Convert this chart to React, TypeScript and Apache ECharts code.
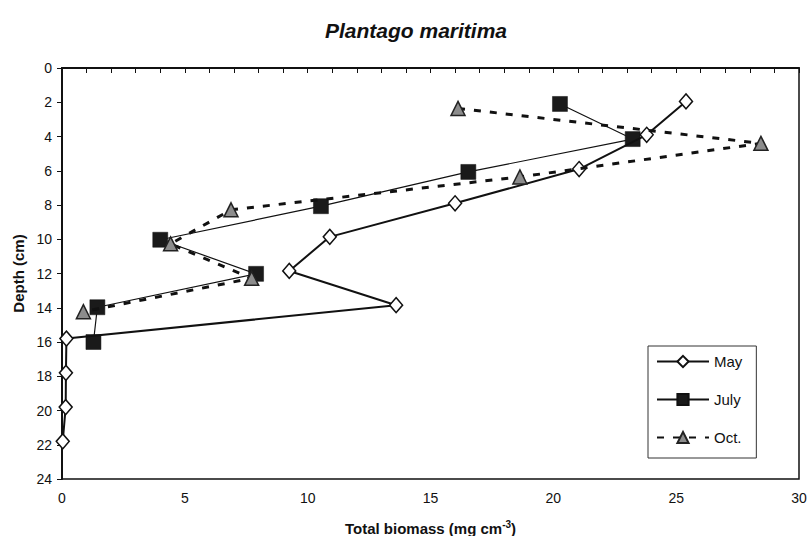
import React, { useEffect, useRef } from "react";
import * as echarts from "echarts";

const mayBiomass = [25.4, 23.8, 21.05, 16.0, 10.9, 9.25, 13.6, 0.18, 0.16, 0.15, 0.03];
const mayDepth = [1.95, 3.9, 5.9, 7.9, 9.86, 11.85, 13.85, 15.8, 17.8, 19.8, 21.8];
const julyBiomass = [20.27, 23.23, 16.54, 10.54, 4.0, 7.9, 1.44, 1.28];
const julyDepth = [2.1, 4.15, 6.07, 8.07, 10.03, 12.02, 13.97, 16.0];
const octBiomass = [16.12, 28.45, 18.64, 6.88, 4.42, 7.72, 0.87];
const octDepth = [2.36, 4.4, 6.36, 8.28, 10.27, 12.28, 14.23];
const seriesNames = ["May", "July", "Oct."];

const FONT = "'Liberation Sans', Arial, sans-serif";

function pairs(xs: number[], ys: number[]) {
  return xs.map((x, i) => [x, ys[i]]);
}

export default function App() {
  const ref = useRef<HTMLDivElement>(null);
  useEffect(() => {
    document.body.style.margin = "0";
    const chart = echarts.init(ref.current!, null, { renderer: "svg" });
    chart.setOption({
      animation: false,
      backgroundColor: "#fff",
      title: {
        text: "Plantago maritima",
        left: 320,
        top: 15,
        textStyle: {
          fontFamily: FONT,
          fontStyle: "italic",
          fontWeight: "bold",
          fontSize: 21,
          color: "#111",
        },
      },
      legend: {
        orient: "vertical",
        left: 648,
        top: 346,
        padding: [8, 14, 13, 8],
        itemWidth: 52,
        itemHeight: 14,
        itemGap: 23,
        borderColor: "#333",
        borderWidth: 1,
        backgroundColor: "#fff",
        textStyle: { fontFamily: FONT, fontSize: 15, color: "#111" },
        data: seriesNames,
      },
      grid: {
        left: 62,
        right: 8,
        top: 68,
        bottom: 57,
        show: true,
        outerBoundsMode: "none",
        containLabel: false,
        borderColor: "#111",
        borderWidth: 1.5,
      },
      xAxis: {
        type: "value",
        min: 0,
        max: 30,
        interval: 5,
        name: "Total biomass (mg cm{sup|-3})",
        nameLocation: "middle",
        nameGap: 40,
        nameTextStyle: {
          fontFamily: FONT,
          fontWeight: "bold",
          fontSize: 15,
          color: "#111",
          rich: {
            sup: {
              fontFamily: FONT,
              fontWeight: "bold",
              fontSize: 10,
              color: "#111",
              verticalAlign: "top",
              padding: [0, 0, 8, 0],
            },
          },
        },
        splitLine: { show: false },
        axisLine: { lineStyle: { color: "#111", width: 2 } },
        axisTick: { length: 5, lineStyle: { color: "#111" } },
        minorTick: { show: true, splitNumber: 5, length: 5, lineStyle: { color: "#111" } },
        axisLabel: { fontFamily: FONT, fontSize: 14, color: "#111", margin: 12 },
      },
      yAxis: {
        type: "value",
        inverse: true,
        min: 0,
        max: 24,
        interval: 2,
        name: "Depth (cm)",
        nameLocation: "middle",
        nameGap: 36,
        nameTextStyle: { fontFamily: FONT, fontWeight: "bold", fontSize: 15, color: "#111" },
        splitLine: { show: false },
        axisLine: { lineStyle: { color: "#111", width: 2 } },
        axisTick: { length: 5, lineStyle: { color: "#111" } },
        axisLabel: { fontFamily: FONT, fontSize: 14, color: "#111", margin: 10 },
      },
      series: [
        {
          name: seriesNames[0],
          type: "line",
          data: pairs(mayBiomass, mayDepth),
          symbol: "diamond",
          symbolSize: [13, 15],
          z: 3,
          lineStyle: { color: "#111", width: 2 },
          itemStyle: { color: "#fff", borderColor: "#111", borderWidth: 1.5 },
        },
        {
          name: seriesNames[1],
          type: "line",
          data: pairs(julyBiomass, julyDepth),
          symbol: "rect",
          symbolSize: 15,
          z: 2,
          lineStyle: { color: "#111", width: 1.2 },
          itemStyle: { color: "#1a1a1a", borderColor: "#111", borderWidth: 0.5 },
        },
        {
          name: seriesNames[2],
          type: "line",
          data: pairs(octBiomass, octDepth),
          symbol: "triangle",
          symbolSize: [14, 14],
          z: 4,
          lineStyle: { color: "#111", width: 3, type: [7, 9] },
          itemStyle: { color: "#8c8c8c", borderColor: "#222", borderWidth: 1.5 },
        },
      ],
    });
    return () => chart.dispose();
  }, []);
  return <div ref={ref} style={{ width: 807, height: 536 }} />;
}
